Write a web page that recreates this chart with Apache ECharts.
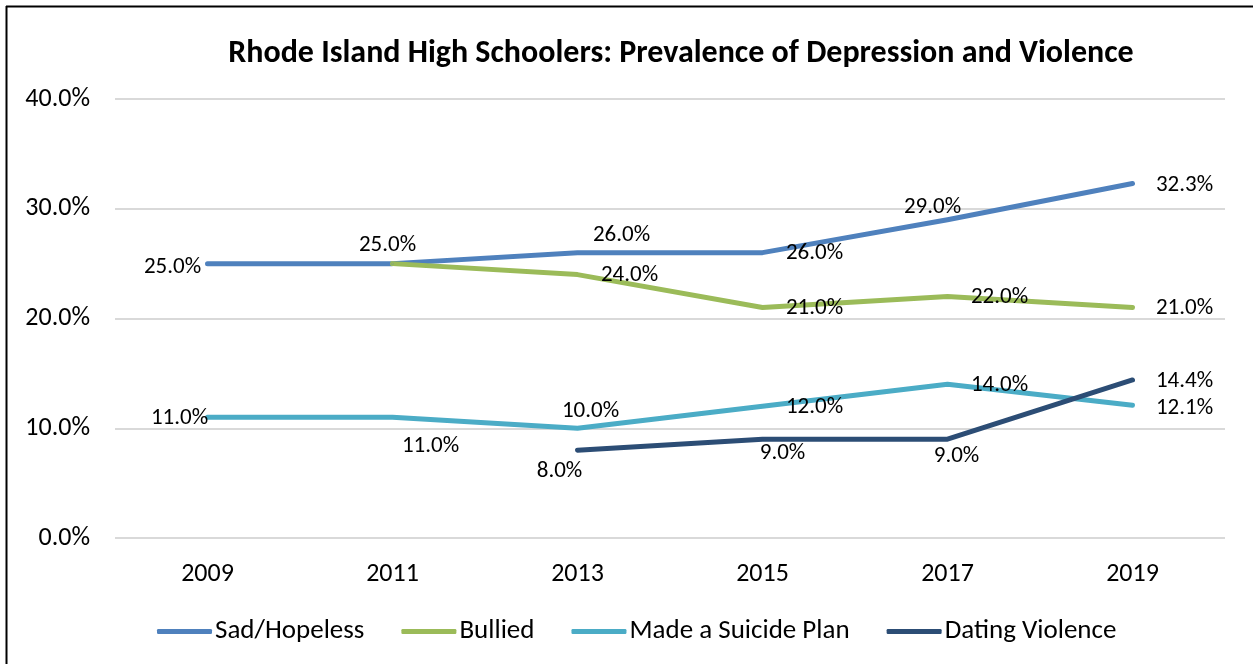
<!DOCTYPE html>
<html>
<head>
<meta charset="utf-8">
<script src="https://cdn.jsdelivr.net/npm/echarts@6/dist/echarts.min.js"></script>
<style>
html,body{margin:0;padding:0;background:#fff;}
#chart{width:1253px;height:664px;}
</style>
</head>
<body>
<div id="chart"></div>
<script>
const years = ['2009', '2011', '2013', '2015', '2017', '2019'];
const sadHopeless = [25.0, 25.0, 26.0, 26.0, 29.0, 32.3];
const bullied = [null, 25.0, 24.0, 21.0, 22.0, 21.0];
const suicidePlan = [11.0, 11.0, 10.0, 12.0, 14.0, 12.1];
const datingViolence = [null, null, 8.0, 9.0, 9.0, 14.4];
const yTicks = [0, 10, 20, 30, 40];

// label offsets (dx, dy) from each point to its label centre
const sadOffsets = [[-35, 3], [-5, -19], [44, -18], [52, 0], [-15, -13], [52, 1]];
const bulliedOffsets = [null, null, [52, 0], [52, 0], [52, 0], [52, 0]];
const suicideOffsets = [[-28, 0], [38, 28], [13, -18], [52, 0], [52, 0], [52, 2]];
const datingOffsets = [null, null, [-18, 20], [20, 13], [9, 16], [52, 0]];

const FONT = "Carlito, 'Liberation Sans Narrow', Lato, 'Open Sans', sans-serif";
const SYM = 2;

function buildData(values, offsets) {
  return values.map((v, i) => {
    if (v === null) return null;
    const off = offsets[i];
    return {
      value: v,
      label: off ? {
        show: true,
        position: [off[0] + SYM / 2, off[1] + SYM / 2 + 1],
        align: 'center',
        verticalAlign: 'middle'
      } : { show: false }
    };
  });
}

function makeSeries(name, values, offsets, color) {
  return {
    name: name,
    type: 'line',
    data: buildData(values, offsets),
    symbol: 'circle',
    symbolSize: SYM,
    showSymbol: true,
    showAllSymbol: true,
    lineStyle: { color: color, width: 5, cap: 'round', join: 'round' },
    itemStyle: { color: color },
    label: {
      show: true,
      formatter: p => p.value.toFixed(1) + '%',
      color: '#000',
      fontSize: 23,
      fontFamily: FONT
    },
    labelLayout: { hideOverlap: false },
    emphasis: { disabled: true },
    connectNulls: false,
    z: 2
  };
}

const chart = echarts.init(document.getElementById('chart'));
chart.setOption({
  backgroundColor: '#fff',
  animation: false,
  title: {
    text: 'Rhode Island High Schoolers: Prevalence of Depression and Violence',
    left: 676,
    textAlign: 'center',
    top: 33,
    textStyle: { fontFamily: FONT, fontWeight: 'bold', fontSize: 32, color: '#000' }
  },
  grid: { left: 115, right: 28, top: 99, bottom: 126, containLabel: false },
  legend: {
    top: 613,
    left: 152,
    itemWidth: 55,
    itemHeight: 5,
    itemGap: 37,
    icon: 'roundRect',
    textStyle: { fontFamily: FONT, fontSize: 27, color: '#000', padding: [0, 0, 0, -2] },
    data: ['Sad/Hopeless', 'Bullied', 'Made a Suicide Plan', 'Dating Violence']
  },
  xAxis: {
    type: 'category',
    data: years,
    boundaryGap: true,
    axisLine: { show: false },
    axisTick: { show: false },
    axisLabel: { fontFamily: FONT, fontSize: 26, color: '#000', margin: 23 }
  },
  yAxis: {
    type: 'value',
    min: yTicks[0],
    max: yTicks[yTicks.length - 1],
    interval: 10,
    axisLine: { show: false },
    axisTick: { show: false },
    splitLine: { lineStyle: { color: '#d9d9d9', width: 2 } },
    axisLabel: {
      fontFamily: FONT, fontSize: 26, color: '#000', margin: 25,
      formatter: v => v.toFixed(1) + '%'
    }
  },
  series: [
    makeSeries('Sad/Hopeless', sadHopeless, sadOffsets, '#4F81BD'),
    makeSeries('Bullied', bullied, bulliedOffsets, '#9BBB59'),
    makeSeries('Made a Suicide Plan', suicidePlan, suicideOffsets, '#4BACC6'),
    makeSeries('Dating Violence', datingViolence, datingOffsets, '#2C4D75')
  ],
  graphic: [
    { type: 'line', shape: { x1: 6, y1: 6.5, x2: 1253, y2: 6.5 }, style: { stroke: '#000', lineWidth: 2 } },
    { type: 'line', shape: { x1: 6.5, y1: 6, x2: 6.5, y2: 664 }, style: { stroke: '#000', lineWidth: 2 } }
  ]
});
</script>
</body>
</html>
